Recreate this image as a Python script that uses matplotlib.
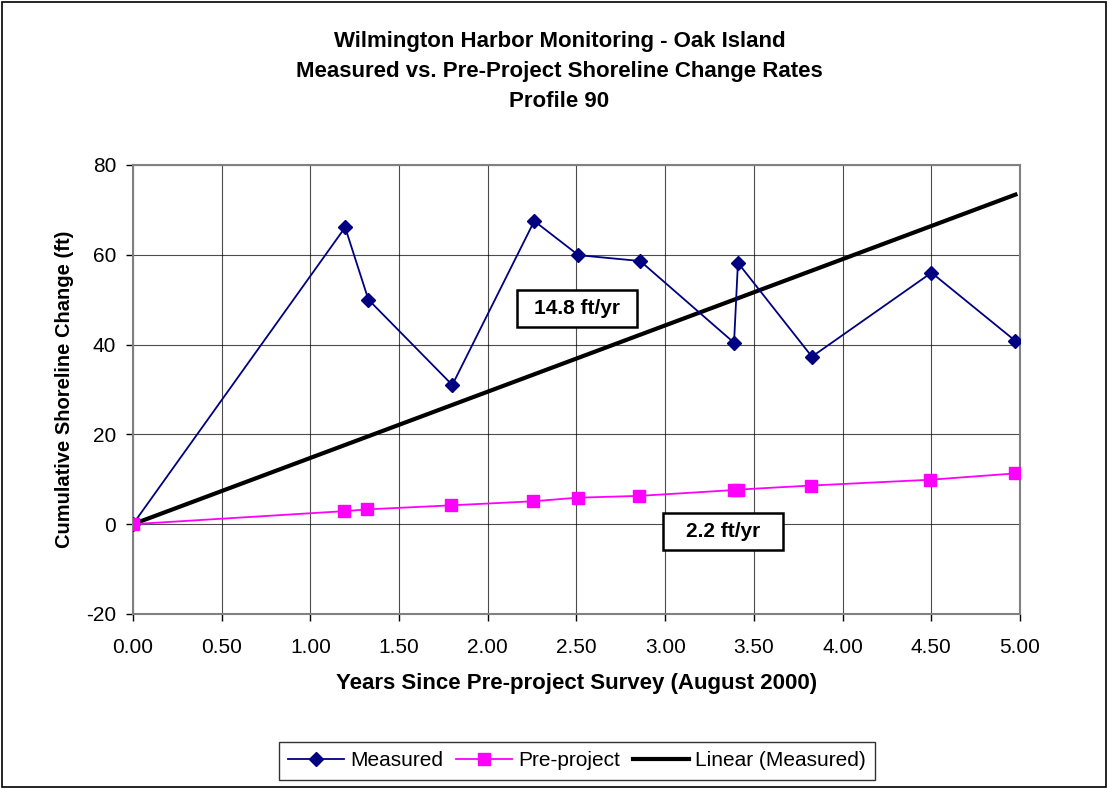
import numpy as np
import matplotlib.pyplot as plt
from matplotlib.patches import Rectangle

plt.rcParams['font.family'] = ['Liberation Sans', 'DejaVu Sans']
plt.rcParams['axes.unicode_minus'] = False

# measured shoreline change (years since Aug 2000, ft)
meas_years = [0.0, 1.196, 1.327, 1.800, 2.262, 2.511, 2.859, 3.388, 3.410, 3.827, 4.501, 4.974]
meas_change = [0.0, 66.1, 50.0, 31.0, 67.5, 59.9, 58.6, 40.4, 58.2, 37.3, 56.0, 40.8]

# pre-project rate
pre_years = [0.0, 1.190, 1.322, 1.795, 2.256, 2.506, 2.853, 3.388, 3.410, 3.820, 4.495, 4.970]
pre_change = [0.0, 2.9, 3.3, 4.2, 5.1, 5.9, 6.3, 7.6, 7.7, 8.6, 9.9, 11.3]

xticks = [0.0, 0.5, 1.0, 1.5, 2.0, 2.5, 3.0, 3.5, 4.0, 4.5, 5.0]
yticks = [-20, 0, 20, 40, 60, 80]

# trendline through origin
x = np.array(meas_years)
y = np.array(meas_change)
slope = np.sum(x * y) / np.sum(x * x)

fig = plt.figure(figsize=(11.08, 7.89), dpi=100)
ax = fig.add_axes([0.120, 0.2218, 0.8006, 0.5692])

ax.plot(meas_years, meas_change, color='#000080', marker='D', markersize=7.5,
        linewidth=1.3, label='Measured', zorder=4)
ax.plot(pre_years, pre_change, color='#FF00FF', marker='s', markersize=8,
        linewidth=1.3, label='Pre-project', zorder=4)
ax.plot([0, x.max()], [0, slope * x.max()], color='black', linewidth=3,
        label='Linear (Measured)', zorder=3)

ax.set_xlim(0, 5)
ax.set_ylim(-20, 80)
ax.set_xticks(xticks)
ax.set_xticklabels(['%.2f' % v for v in xticks])
ax.set_yticks(yticks)
ax.tick_params(labelsize=15, direction='out', length=5, width=1, color='#000000')
ax.tick_params(axis='x', pad=12)
ax.tick_params(axis='y', pad=7)
ax.grid(True, color='#000000', linewidth=0.8, alpha=0.7)
for s in ax.spines.values():
    s.set_color('#808080')
    s.set_linewidth(1.5)

ax.set_xlabel('Years Since Pre-project Survey (August 2000)', fontsize=16,
              fontweight='bold', labelpad=12)
ax.set_ylabel('Cumulative Shoreline Change (ft)', fontsize=14.5,
              fontweight='bold', labelpad=9)

# label boxes
for cx, cy, txt in [(2.504, 48.1, '%.1f ft/yr' % slope), (3.325, -1.6, '2.2 ft/yr')]:
    ax.add_patch(Rectangle((cx - 0.338, cy - 4.1), 0.676, 8.2, facecolor='white',
                           edgecolor='black', linewidth=1.8, zorder=5))
    ax.text(cx, cy, txt, ha='center', va='center', fontsize=15,
            fontweight='bold', zorder=6)

fig.text(0.505, 0.961, 'Wilmington Harbor Monitoring - Oak Island\n'
         'Measured vs. Pre-Project Shoreline Change Rates\nProfile 90',
         ha='center', va='top', fontsize=16, fontweight='bold', linespacing=1.56)

leg = fig.legend(loc='center', bbox_to_anchor=(0.5208, 0.0355), ncol=3, fontsize=15,
                 frameon=True, fancybox=False, edgecolor='black', handlelength=2.7,
                 columnspacing=0.6, handletextpad=0.3, borderpad=0.45)
leg.get_frame().set_linewidth(1.0)

fig.patches.append(Rectangle((0.002, 0.002), 0.996, 0.996, transform=fig.transFigure,
                             fill=False, edgecolor='black', linewidth=1.2))

fig.savefig('out.png', dpi=100)
